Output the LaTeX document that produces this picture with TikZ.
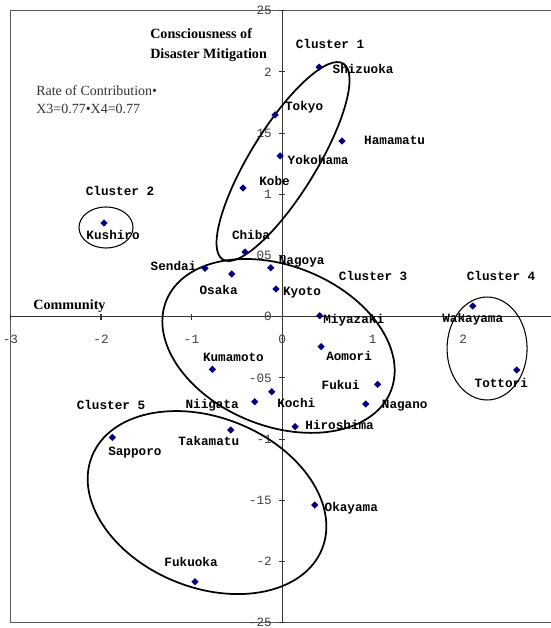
\documentclass[tikz,border=0pt]{standalone}
\usepackage{fontspec}
\setmainfont{Liberation Serif}
\newfontfamily\monofnt{Liberation Mono}
\usepackage{tikz}
\usetikzlibrary{shapes.geometric, positioning}
\definecolor{navy}{RGB}{0,0,128}
\tikzstyle{site} = [diamond, fill=navy, inner sep=0pt, minimum size=5.6pt]
\tikzstyle{city} = [font=\monofnt\bfseries\fontsize{9.5}{11}\selectfont, inner sep=0pt, text height=5.6pt, text depth=0pt]
\tikzstyle{cluster} = [city]
\tikzstyle{ring} = [black, line width=1.3pt]
\tikzstyle{thinring} = [black, line width=0.8pt]
\tikzstyle{frame} = [draw=black!65, line width=0.8pt]
\tikzstyle{axis} = [draw=black!80, line width=0.8pt]
\tikzstyle{ticklab} = [font=\monofnt\fontsize{9.5}{11}\selectfont, text=black!75, inner sep=0pt]
\tikzstyle{heading} = [font=\bfseries\fontsize{10.6}{15}\selectfont, inner sep=0pt, align=left, anchor=west]
\tikzstyle{note} = [font=\fontsize{10.5}{13.5}\selectfont, text=black!80, inner sep=0pt, align=left, anchor=west]

\begin{document}
\begin{tikzpicture}[x=67.875pt, y=91.76pt]
    \useasboundingbox (-3.116,-2.544) rectangle (2.961,2.588);
    % frame and axes
    \draw[frame] (-3,-2.5) rectangle (3,2.5);
    \draw[axis] (-3,0) -- (3,0);
    \draw[axis] (0,-2.5) -- (0,2.5);
    \foreach \x [count=\i] in {-3,...,2} {
        \draw[axis] (\x,0) ++(0pt,2.2pt) -- ++(0pt,-4.4pt);
        \node[ticklab] (xl\i) at ([yshift=-17.2pt]\x,0) {\x};
    }
    \foreach \y/\t [count=\j] in {2.5/25, 2/2, 1.5/15, 1/1, 0.5/05, 0/0, -0.5/-05, -1/-1, -1.5/-15, -2/-2, -2.5/-25} {
        \draw[axis] (0,\y) ++(-2.2pt,0pt) -- ++(4.4pt,0pt);
        \node[ticklab, anchor=east] (yl\j) at ([xshift=-7.5pt]0,\y) {\t};
    }
    % titles
    \node[heading] (ytitle) at (-1.459,2.221) {Consciousness of\\Disaster Mitigation};
    \node[heading] (xtitle) at (-2.751,0.087) {Community};
    \node[note] (rate) at (-2.718,1.771) {Rate of Contribution•\\X3=0.77•X4=0.77};
    % clusters
    \draw[ring, shift={(0.011,1.268)}, rotate=58.4] (0,0) ellipse [x radius=86.25pt, y radius=24.75pt];
    \draw[thinring] (-1.945,0.729) ellipse [x radius=20.25pt, y radius=15.4pt];
    \draw[ring, shift={(-0.039,-0.239)}, rotate=-22] (0,0) ellipse [x radius=90.75pt, y radius=60pt];
    \draw[thinring] (2.265,-0.260) ellipse [x radius=30pt, y radius=38.6pt];
    \draw[ring, shift={(-0.829,-1.519)}, rotate=-22] (0,0) ellipse [x radius=93pt, y radius=63.75pt];
    \node[cluster] (c1) at (0.530,2.221) {Cluster 1};
    \node[cluster] (c2) at (-1.790,1.019) {Cluster 2};
    \node[cluster] (c3) at (1.006,0.324) {Cluster 3};
    \node[cluster] (c4) at (2.420,0.324) {Cluster 4};
    \node[cluster] (c5) at (-1.890,-0.730) {Cluster 5};
    % cities
    \node[site] (shizuoka) at (0.409,2.039) {};
    \node[city, right of=shizuoka, node distance=33pt, yshift=-2.2pt] (lshizuoka) {Shizuoka};
    \node[site] (tokyo) at (-0.077,1.649) {};
    \node[city, right of=tokyo, node distance=21.8pt, yshift=6pt] (ltokyo) {Tokyo};
    \node[site] (hamamatu) at (0.663,1.436) {};
    \node[city, right of=hamamatu, node distance=39.4pt] (lhamamatu) {Hamamatu};
    \node[site] (yokohama) at (-0.022,1.314) {};
    \node[city, right of=yokohama, node distance=28.5pt, yshift=-3.8pt] (lyokohama) {Yokohama};
    \node[site] (kobe) at (-0.431,1.052) {};
    \node[city, right of=kobe, node distance=23.6pt, yshift=4.5pt] (lkobe) {Kobe};
    \node[site] (kushiro) at (-1.967,0.766) {};
    \node[city, below of=kushiro, node distance=9.8pt, xshift=6.8pt] (lkushiro) {Kushiro};
    \node[site] (chiba) at (-0.409,0.529) {};
    \node[city, above of=chiba, node distance=12pt, xshift=4.5pt] (lchiba) {Chiba};
    \node[site] (nagoya) at (-0.125,0.400) {};
    \node[city, right of=nagoya, node distance=23.2pt, yshift=5.2pt] (lnagoya) {Nagoya};
    \node[site] (sendai) at (-0.851,0.396) {};
    \node[city, left of=sendai, node distance=23.6pt, yshift=0.8pt] (lsendai) {Sendai};
    \node[site] (osaka) at (-0.556,0.349) {};
    \node[city, below of=osaka, node distance=12.8pt, xshift=-9.8pt] (losaka) {Osaka};
    \node[site] (kyoto) at (-0.066,0.226) {};
    \node[city, right of=kyoto, node distance=19.5pt, yshift=-2.2pt] (lkyoto) {Kyoto};
    \node[site] (miyazaki) at (0.416,0.008) {};
    \node[city, right of=miyazaki, node distance=25.5pt, yshift=-3pt] (lmiyazaki) {Miyazaki};
    \node[site] (aomori) at (0.431,-0.245) {};
    \node[city, right of=aomori, node distance=21pt, yshift=-7.5pt] (laomori) {Aomori};
    \node[site] (kumamoto) at (-0.770,-0.430) {};
    \node[city, above of=kumamoto, node distance=9pt, xshift=15.8pt] (lkumamoto) {Kumamoto};
    \node[site] (fukui) at (1.057,-0.553) {};
    \node[city, left of=fukui, node distance=27.8pt, yshift=-0.8pt] (lfukui) {Fukui};
    \node[site] (kochi) at (-0.114,-0.613) {};
    \node[city, right of=kochi, node distance=18.4pt, yshift=-9pt] (lkochi) {Kochi};
    \node[site] (niigata) at (-0.302,-0.695) {};
    \node[city, left of=niigata, node distance=31.9pt, yshift=-1.9pt] (lniigata) {Niigata};
    \node[site] (nagano) at (0.925,-0.714) {};
    \node[city, right of=nagano, node distance=29.2pt, yshift=-0.8pt] (lnagano) {Nagano};
    \node[site] (hiroshima) at (0.144,-0.899) {};
    \node[city, right of=hiroshima, node distance=33.4pt, yshift=0.8pt] (lhiroshima) {Hiroshima};
    \node[site] (takamatu) at (-0.567,-0.926) {};
    \node[city, below of=takamatu, node distance=9pt, xshift=-16.5pt] (ltakamatu) {Takamatu};
    \node[site] (sapporo) at (-1.875,-0.986) {};
    \node[city, below of=sapporo, node distance=10.5pt, xshift=16.9pt] (lsapporo) {Sapporo};
    \node[site] (okayama) at (0.361,-1.539) {};
    \node[city, right of=okayama, node distance=27.4pt, yshift=-2.2pt] (lokayama) {Okayama};
    \node[site] (fukuoka) at (-0.961,-2.166) {};
    \node[city, above of=fukuoka, node distance=14.2pt, xshift=-3pt] (lfukuoka) {Fukuoka};
    \node[site] (wakayama) at (2.107,0.087) {};
    \node[city, below of=wakayama, node distance=9.8pt] (lwakayama) {Wakayama};
    \node[site] (tottori) at (2.593,-0.436) {};
    \node[city, below of=tottori, node distance=10.5pt, xshift=-11.6pt] (ltottori) {Tottori};
\end{tikzpicture}
\end{document}
